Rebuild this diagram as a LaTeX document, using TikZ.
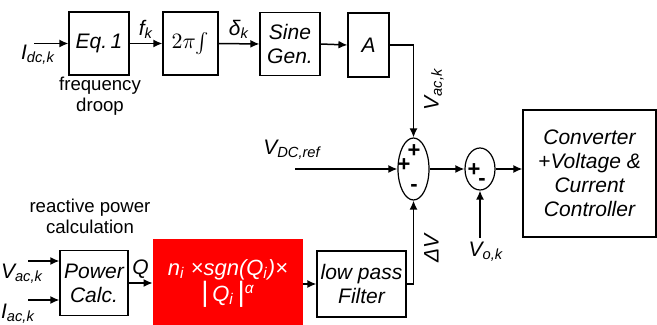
\documentclass[tikz,border=0pt]{standalone}
\usepackage{fontspec}
\setmainfont{Liberation Sans}
\usepackage{xcolor}
\usepackage{tikz}
\usetikzlibrary{shapes.geometric, arrows.meta, positioning}
\definecolor{lawred}{HTML}{FF0000}
\newcommand{\sub}[1]{\textsubscript{#1}}
\tikzset{
  blk/.style={rectangle, draw=black, line width=0.6pt, align=center, font=\itshape\fontsize{10.5}{12}\selectfont, inner sep=1pt},
  law/.style={rectangle, fill=lawred, draw=none, text=white, align=center, font=\itshape\fontsize{11}{13}\selectfont, inner sep=1pt},
  sumj/.style={ellipse, draw=black, line width=0.6pt, inner sep=0pt},
  lbl/.style={font=\itshape\fontsize{10.5}{12}\selectfont, inner sep=1pt},
  vlbl/.style={lbl, rotate=90, anchor=north, yshift=-4pt},
  note/.style={font=\fontsize{9.3}{10.5}\selectfont, align=center, inner sep=0pt},
  sgn/.style={font=\bfseries\fontsize{11}{11}\selectfont, inner sep=0pt},
  arr/.style={-{Latex[length=4.5pt, width=4pt]}, line width=0.75pt},
}

\begin{document}
\begin{tikzpicture}[x=0.5pt, y=-0.5pt]
\useasboundingbox (0,0) rectangle (657,325);
% voltage reference path
\node[blk, minimum width=30pt, minimum height=31.5pt] (eq) at (99,43.5) {Eq.\,1};
\node[blk, minimum width=27.5pt, minimum height=31.5pt] (integ) at (190.5,43.5) {$2\pi\!\int$};
\node[blk, minimum width=30pt, minimum height=31.5pt] (sine) at (290,44) {Sine\\Gen.};
\node[blk, minimum width=20.5pt, minimum height=32pt] (amp) at (368.5,45) {A};
\node[note] (droop) at (100,96) {frequency\\droop};
\coordinate (idc) at (34,43.5);
\node[lbl] (idcl) at (38,55) {I\sub{dc,k}};
\draw[arr] (idc) -- (eq.west);
\draw[arr] (eq.east) -- node[lbl, above=1pt] (fk) {f\sub{k}} (integ.west);
\draw[arr] (integ.east) -- node[lbl, above=1pt] (dk) {δ\sub{k}} (sine.west);
\draw[arr] (sine.east) -- (amp.west);

% summing junctions
\node[sumj, minimum width=15.5pt, minimum height=31pt] (sum1) at (413.5,169) {};
\node[sumj, minimum width=15pt, minimum height=21pt] (sum2) at (480,169) {};
\node[sgn] (s1a) at (414,151) {+};
\node[sgn] (s1b) at (404,165) {+};
\node[sgn] (s1c) at (414,188) {-};
\node[sgn] (s2a) at (474,170) {+};
\node[sgn] (s2b) at (482,182) {-};
\node[blk, minimum width=66.5pt, minimum height=63.5pt] (conv) at (589.5,173.5) {Converter\\+Voltage \&\\Current\\Controller};
\draw[arr] (amp.east) -| node[vlbl, pos=0.74] (vac) {V\sub{ac,k}} (sum1.north);
\coordinate (vdc) at (295,169);
\node[lbl] (vdcl) at (292,150) {V\sub{DC,ref}};
\draw[arr] (vdc) -- (sum1.west);
\draw[arr] (sum1.east) -- (sum2.west);
\draw[arr] (sum2.east) -- (sum2.east -| conv.west);
\coordinate (vo) at (480,238);
\node[lbl] (vol) at (486,252) {V\sub{o,k}};
\draw[arr] (vo) -- (sum2.south);

% reactive power droop path
\node[blk, minimum width=34pt, minimum height=32.5pt] (pcalc) at (94,283) {Power\\Calc.};
\node[law, minimum width=75pt, minimum height=44pt] (droopq) at (228,283) {n\sub{i} ×sgn(Q\sub{i})×\\{\fontsize{14}{14}\selectfont\upshape|}\,Q\sub{i}\,{\fontsize{14}{14}\selectfont\upshape|}\textsuperscript{α}};
\node[blk, minimum width=44.5pt, minimum height=33pt] (lpf) at (361.5,284) {low pass\\Filter};
\node[note] (rpc) at (90,216) {reactive power\\calculation};
\coordinate (vacin) at (28,261);
\coordinate (iacin) at (28,300);
\node[lbl] (vacl) at (22,274) {V\sub{ac,k}};
\node[lbl] (iacl) at (18,314) {I\sub{ac,k}};
\draw[arr] (vacin) -- (vacin -| pcalc.west);
\draw[arr] (iacin) -- (iacin -| pcalc.west);
\draw[arr] (pcalc.east) -- node[lbl, above=1pt] (ql) {Q} (droopq.west);
\draw[arr] (droopq.east |- lpf.west) -- (lpf.west);
\draw[arr] (lpf.east) -| node[vlbl, pos=0.715] (dv) {ΔV} (sum1.south);
\end{tikzpicture}
\end{document}
